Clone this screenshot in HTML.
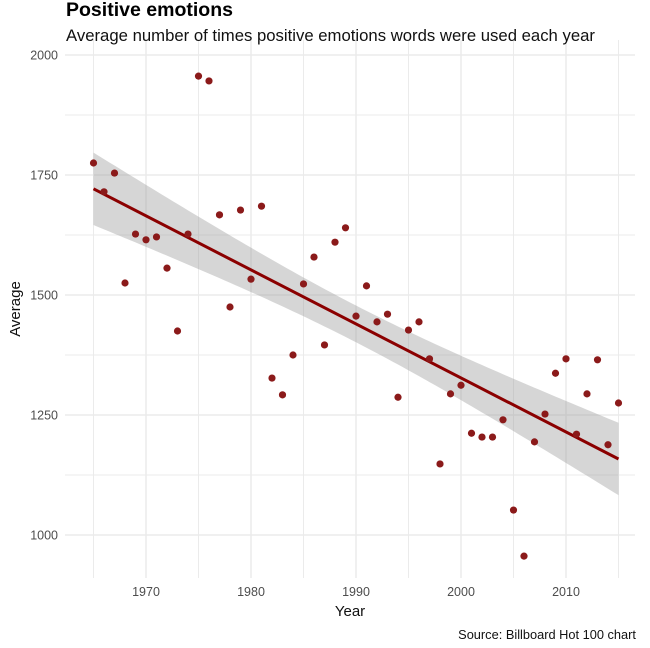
<!DOCTYPE html>
<html><head><meta charset="utf-8"><style>
body{margin:0;background:#fff;font-family:"Liberation Sans",sans-serif}
svg text{font-family:"Liberation Sans",sans-serif}
</style></head><body>
<svg id="c" width="650" height="643"></svg>
<script>
const years=[];for(let y=1965;y<=2015;y++)years.push(y);
const values=[1775,1715,1754,1525,1627,1615,1621,1556,1425,1627,1956,1946,1667,1475,1677,1533,1685,1327,1292,1375,1523,1579,1396,1610,1640,1456,1519,1444,1460,1287,1427,1444,1367,1148,1294,1312,1212,1204,1204,1240,1052,956,1194,1252,1337,1367,1210,1294,1365,1188,1275];
const xTicks=[1970,1980,1990,2000,2010];
const yTicks=[1000,1250,1500,1750,2000];
const NS="http://www.w3.org/2000/svg";
const svg=document.getElementById('c');
function el(t,a,p){const e=document.createElementNS(NS,t);for(const k in a)e.setAttribute(k,a[k]);(p||svg).appendChild(e);return e;}
const X=v=>93.5+(v-1965)*10.5;
const Y=v=>535-(v-1000)*0.48;
const L=65,R=635,T=40,B=578;
const grid=el('g',{});
for(let v=1965;v<=2015;v+=5){el('line',{x1:X(v),x2:X(v),y1:T,y2:B,stroke:'#ebebeb','stroke-width':v%10==0?1.5:1},grid);}
for(let v=1000;v<=2000;v+=125){el('line',{x1:L,x2:R,y1:Y(v),y2:Y(v),stroke:'#ebebeb','stroke-width':v%250==0?1.5:1},grid);}
const n=years.length;const mx=years.reduce((a,b)=>a+b)/n;const my=values.reduce((a,b)=>a+b)/n;
let sxx=0,sxy=0;years.forEach((x,i)=>{sxx+=(x-mx)**2;sxy+=(x-mx)*(values[i]-my);});
const b=sxy/sxx,a=my-b*mx;let sse=0;years.forEach((x,i)=>{sse+=(values[i]-a-b*x)**2;});
const s=Math.sqrt(sse/(n-2));const t=2.01;
const up=[],lo=[];
for(let x=1965;x<=2015;x+=0.5){const f=a+b*x;const se=s*Math.sqrt(1/n+(x-mx)**2/sxx);up.push(X(x)+','+Y(f+t*se));lo.unshift(X(x)+','+Y(f-t*se));}
const band=el('polygon',{points:up.concat(lo).join(' '),fill:'#999',opacity:0.4});

const ln=el('line',{x1:X(1965),y1:Y(a+b*1965),x2:X(2015),y2:Y(a+b*2015),stroke:'#8b0000','stroke-width':3});

years.forEach((yr,i)=>{const c=el('circle',{cx:X(yr),cy:Y(values[i]),r:3.6,fill:'#8b1a1a'});
});
xTicks.forEach(v=>{const e=el('text',{x:X(v),y:596,'text-anchor':'middle','font-size':12.5,fill:'#4d4d4d'});e.textContent=v;
});
yTicks.forEach(v=>{const e=el('text',{x:58,y:Y(v)+4.5,'text-anchor':'end','font-size':12.5,fill:'#4d4d4d'});e.textContent=v;
});
function txt(x,y,s,attrs,name){const e=el('text',Object.assign({x:x,y:y},attrs));e.textContent=s;return e;}
txt(66,16,'Positive emotions',{'font-size':19.5,'font-weight':'bold',fill:'#000',textLength:167,lengthAdjust:'spacingAndGlyphs'},'chart-title');
txt(66,41,'Average number of times positive emotions words were used each year',{'font-size':16.5,fill:'#111',textLength:529,lengthAdjust:'spacingAndGlyphs'},'chart-subtitle');
txt(350,616,'Year',{'font-size':15,'text-anchor':'middle',fill:'#111'},'x-axis-title');
txt(0,0,'Average',{'font-size':15,'text-anchor':'middle',fill:'#111',transform:'translate(20,309) rotate(-90)'},'y-axis-title');
txt(636,639,'Source: Billboard Hot 100 chart',{'font-size':12.8,'text-anchor':'end',fill:'#111'},'source-caption');
</script></body></html>
